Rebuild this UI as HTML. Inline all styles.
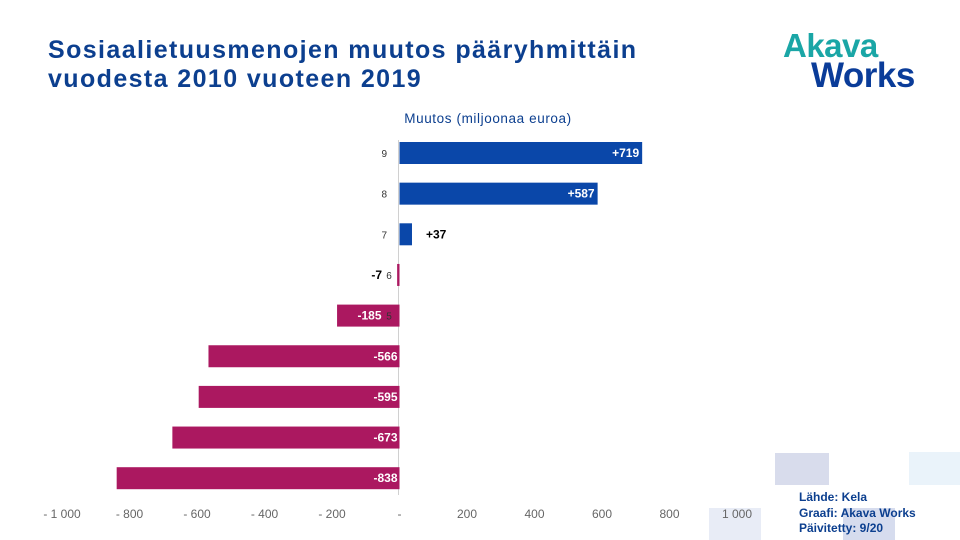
<!DOCTYPE html>
<html><head><meta charset="utf-8"><style>
body{margin:0;width:960px;height:540px;background:#fff;overflow:hidden;font-family:"Liberation Sans",sans-serif;position:relative}
.t{position:absolute;left:48px;top:36px;font-size:25px;font-weight:bold;letter-spacing:1.4px;line-height:29px;color:#0c3f8f}
.sq{position:absolute}
</style></head><body>
<div class="t">Sosiaalietuusmenojen muutos pääryhmittäin<br>vuodesta 2010 vuoteen 2019</div>
<div style="position:absolute;left:783px;top:31px;font-weight:bold;line-height:30px;letter-spacing:-0.5px">
<div style="color:#1aa6a6;font-size:33px">Akava</div><div style="color:#0a3c99;font-size:35px;margin-left:28px">Works</div></div>
<div class="sq" style="left:775px;top:453px;width:54px;height:32px;background:#d8dcec"></div>
<div class="sq" style="left:909px;top:452px;width:51px;height:33px;background:#eaf3fa"></div>
<div class="sq" style="left:709px;top:508px;width:52px;height:32px;background:#e8ecf6"></div>
<div class="sq" style="left:843px;top:508px;width:52px;height:32px;background:#d6dcee"></div>
<div style="position:absolute;left:799px;top:490px;font-size:12px;line-height:15.5px;font-weight:bold;color:#0c3f8f">Lähde: Kela<br>Graafi: Akava Works<br>Päivitetty: 9/20</div>
<svg id="c" width="960" height="540" style="position:absolute;left:0;top:0"></svg>
<script>
const categories=["9","8","7","6","5","4","3","2","1"];
const values=[719,587,37,-7,-185,-566,-595,-673,-838];
const labels=["+719","+587","+37","-7","-185","-566","-595","-673","-838"];
const ticks=[-1000,-800,-600,-400,-200,0,200,400,600,800,1000];
const tickLabels=["- 1 000","- 800","- 600","- 400","- 200","-","200","400","600","800","1 000"];
const svg=document.getElementById('c');const NS="http://www.w3.org/2000/svg";
const x=v=>399.5+v*0.3375;
const y=i=>142+i*40.65;
function mk(t,a,txt){const e=document.createElementNS(NS,t);for(const k in a)e.setAttribute(k,a[k]);if(txt!=null)e.textContent=txt;svg.appendChild(e);return e;}
const tt=mk('text',{x:488,y:123,'font-size':13.5,'letter-spacing':0.6,fill:'#0c3f8f','text-anchor':'middle'},'Muutos (miljoonaa euroa)');


const ax=mk('line',{x1:398.5,y1:140,x2:398.5,y2:495,stroke:'#d0d0d0'});


ticks.forEach((t,i)=>{const e=mk('text',{x:x(t),y:518,'font-size':12,fill:'#666','text-anchor':'middle'},tickLabels[i]);

});
values.forEach((v,i)=>{
const x0=Math.min(x(0),x(v)),w=Math.max(Math.abs(x(v)-x(0)),1);
const r=mk('rect',{x:x0,y:y(i),width:w,height:22,fill:v>=0?'#0a47a9':'#ab1860'});


if(i<5){const c=mk('text',{x:v<0?389:387,y:y(i)+15,'font-size':10,fill:'#333','text-anchor':v<0?'middle':'end'},categories[i]);

}
let lx,anchor='end',fill='#fff';
if(Math.abs(x(v)-x(0))<40){ if(v>=0){lx=x(v)+14;anchor='start';}else{lx=x(v)-5;} fill='#000';}
else if(v>=0){lx=x(v)-3;}
else if(i===4){lx=x(0)-18;}
else{lx=x(0)-2;}
if(i===3)lx=382;
const l=mk('text',{x:lx,y:y(i)+15,'font-size':12,'font-weight':'bold',fill:fill,'text-anchor':anchor},labels[i]);


});
</script>
</body></html>
